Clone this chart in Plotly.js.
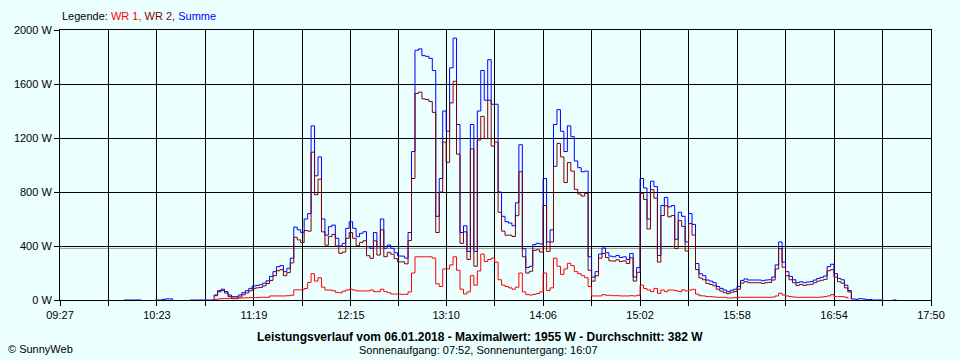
<!DOCTYPE html>
<html><head><meta charset="utf-8">
<script src="https://cdn.plot.ly/plotly-3.0.1.min.js"></script>
<style>html,body{margin:0;padding:0;background:#ebffff;} #chart{width:960px;height:360px;}</style>
</head><body><div id="chart"></div>
<script>
const times = [
"10:02","10:04","10:06","10:08","10:10","10:12","10:14","10:16","10:18","10:20",
"10:22","10:24","10:26","10:28","10:30","10:32","10:34","10:36","10:38","10:40",
"10:42","10:44","10:46","10:48","10:50","10:52","10:54","10:56","10:58","11:00",
"11:02","11:04","11:06","11:08","11:10","11:12","11:14","11:16","11:18","11:20",
"11:22","11:24","11:26","11:28","11:30","11:32","11:34","11:36","11:38","11:40",
"11:42","11:44","11:46","11:48","11:50","11:52","11:54","11:56","11:58","12:00",
"12:02","12:04","12:06","12:08","12:10","12:12","12:14","12:16","12:18","12:20",
"12:22","12:24","12:26","12:28","12:30","12:32","12:34","12:36","12:38","12:40",
"12:42","12:44","12:46","12:48","12:50","12:52","12:54","12:56","12:58","13:00",
"13:02","13:04","13:06","13:08","13:10","13:12","13:14","13:16","13:18","13:20",
"13:22","13:24","13:26","13:28","13:30","13:32","13:34","13:36","13:38","13:40",
"13:42","13:44","13:46","13:48","13:50","13:52","13:54","13:56","13:58","14:00",
"14:02","14:04","14:06","14:08","14:10","14:12","14:14","14:16","14:18","14:20",
"14:22","14:24","14:26","14:28","14:30","14:32","14:34","14:36","14:38","14:40",
"14:42","14:44","14:46","14:48","14:50","14:52","14:54","14:56","14:58","15:00",
"15:02","15:04","15:06","15:08","15:10","15:12","15:14","15:16","15:18","15:20",
"15:22","15:24","15:26","15:28","15:30","15:32","15:34","15:36","15:38","15:40",
"15:42","15:44","15:46","15:48","15:50","15:52","15:54","15:56","15:58","16:00",
"16:02","16:04","16:06","16:08","16:10","16:12","16:14","16:16","16:18","16:20",
"16:22","16:24","16:26","16:28","16:30","16:32","16:34","16:36","16:38","16:40",
"16:42","16:44","16:46","16:48","16:50","16:52","16:54","16:56","16:58","17:00",
"17:02","17:04","17:06","17:08","17:10","17:12","17:14","17:16","17:18","17:20",
"17:22","17:24","17:26","17:28","17:30"];

const summe = [
null,0,0,0,0,0,0,null,null,null,
0,0,5,8,8,0,null,null,null,null,
0,0,0,0,0,0,0,37,69,80,
62,37,25,25,37,54,69,86,104,108,
113,125,142,175,210,247,255,210,235,310,
540,520,500,600,640,1290,920,1060,600,480,
543,555,457,400,420,531,580,531,469,494,
506,395,383,500,395,600,383,407,383,350,
326,325,310,500,1100,1850,1860,1810,1805,1790,
1700,620,900,1400,1250,1720,1940,1300,500,550,
360,1300,360,1400,1700,1480,1780,1450,1450,800,
620,580,570,550,720,1150,380,240,250,410,
420,415,900,430,520,1300,1410,1250,1100,1290,
1210,1030,980,950,955,320,170,210,340,385,
350,325,320,330,315,320,300,345,170,240,
900,830,600,880,840,330,700,760,690,700,
450,650,620,430,640,560,270,195,180,148,
140,128,100,86,74,62,72,80,100,145,
156,148,148,148,148,143,148,150,170,260,
430,280,210,175,150,128,135,128,133,136,
148,160,168,178,247,265,195,160,150,110,
70,8,5,10,8,3,3,0,0,0,
0,null,null,0,0];

const wr1 = [
null,null,null,null,null,null,null,null,null,null,
null,null,null,null,null,null,null,null,null,null,
null,null,null,null,null,null,null,5,8,10,
10,12,15,15,15,15,17,18,18,18,
20,20,20,30,30,30,30,30,32,35,
75,75,75,85,130,195,140,165,95,74,
74,69,57,54,65,74,80,74,67,67,
67,67,74,62,62,80,62,54,44,44,
44,42,42,60,200,320,320,320,320,320,
310,120,100,230,230,260,320,220,80,45,
60,180,110,215,340,285,300,310,280,150,
110,100,90,80,95,200,60,40,37,42,
48,60,200,70,90,310,250,190,230,272,
255,210,195,180,165,100,30,30,30,40,
35,35,32,32,30,30,30,32,30,35,
110,85,74,62,86,49,74,62,74,74,
69,62,75,67,74,79,44,32,30,25,
25,22,20,20,20,15,15,18,20,20,
20,20,20,20,20,20,20,20,22,30,
50,37,30,25,22,20,20,20,20,20,
20,20,22,25,30,40,25,25,25,20,
10,null,null,null,null,null,null,null,null,null,
null,null,null,null,null];

const wr2 = [
null,null,null,null,null,null,null,null,null,null,
null,null,null,null,null,null,null,null,null,null,
null,null,null,null,null,null,null,32,61,70,
52,25,10,10,22,39,52,68,86,90,
93,105,122,145,180,217,225,180,203,275,
465,445,425,515,510,1095,780,895,505,406,
469,486,400,346,355,457,500,457,402,427,
439,328,309,438,333,520,321,353,339,306,
282,283,268,440,900,1530,1540,1490,1485,1470,
1390,500,800,1170,1020,1460,1620,1080,420,505,
300,1120,250,1185,1360,1195,1480,1140,1170,650,
510,480,480,470,625,950,320,200,213,368,
372,355,700,360,430,990,1160,1060,870,1018,
955,820,785,770,790,220,140,180,310,345,
315,290,288,298,285,290,270,313,140,205,
790,745,526,818,754,281,626,698,616,626,
381,588,545,363,566,481,226,163,150,123,
115,106,80,66,54,47,57,62,80,125,
136,128,128,128,128,123,128,130,148,230,
380,243,180,150,128,108,115,108,113,116,
128,140,146,153,217,225,170,135,125,90,
60,6,null,null,null,null,null,null,null,null,
null,null,null,null,null];

const tickLabels = ["09:27","10:23","11:19","12:15","13:10","14:06","15:02","15:58","16:54","17:50"];
const yTicks = [0,400,800,1200,1600,2000];
const averageW = 382;
const maxW = 1955;
const dayText = "06.01.2018";
const sunrise = "07:52", sunset = "16:07";

function toMin(s){ const p = s.split(":"); return (+p[0])*60 + (+p[1]); }
const xs = times.map(toMin);
const labelVals = tickLabels.map(toMin);
const tickvals = [], ticktext = [];
labelVals.forEach((v,i)=>{
  tickvals.push(v); ticktext.push(tickLabels[i]);
  if (i < labelVals.length-1){ tickvals.push((v+labelVals[i+1])/2); ticktext.push(""); }
});

const traces = [
  {x: xs, y: summe, name: "Summe", type: "scatter", mode: "lines", connectgaps: false,
   line: {color: "#0000ff", width: 1, shape: "hv"}},
  {x: xs, y: wr2, name: "WR 2", type: "scatter", mode: "lines", connectgaps: false,
   line: {color: "#800000", width: 1, shape: "hv"}},
  {x: xs, y: wr1, name: "WR 1", type: "scatter", mode: "lines", connectgaps: false,
   line: {color: "#ff0000", width: 1, shape: "hv"}}
];

const bg = "#ebffff";
const layout = {
  width: 960, height: 360,
  margin: {l: 60, r: 29, t: 30, b: 60, pad: 0},
  paper_bgcolor: bg, plot_bgcolor: bg,
  font: {family: "Liberation Sans, Arial, sans-serif", size: 11, color: "#000"},
  showlegend: false,
  xaxis: {range: [labelVals[0], labelVals[labelVals.length-1]], tickmode: "array", tickvals: tickvals, ticktext: ticktext,
    ticks: "outside", ticklen: 5, tickcolor: "#000", tickwidth: 1, showgrid: true, gridcolor: "#000", gridwidth: 1,
    showline: true, linecolor: "#000", linewidth: 1, mirror: true, zeroline: false, fixedrange: true,
    tickfont: {size: 11, color: "#000"}},
  yaxis: {range: [0, 2000], tickmode: "array", tickvals: yTicks, ticktext: yTicks.map(v => v + " W"),
    ticks: "outside", ticklen: 5, tickcolor: "#000", tickwidth: 1, showgrid: true, gridcolor: "#000", gridwidth: 1,
    showline: true, linecolor: "#000", linewidth: 1, mirror: true, zeroline: false, fixedrange: true,
    tickfont: {size: 11, color: "#000"}},
  shapes: [
    {type: "line", xref: "paper", x0: 0, x1: 1, yref: "y", y0: averageW, y1: averageW,
     line: {color: "#999999", width: 1}, layer: "below"}
  ],
  annotations: [
    {xref: "paper", yref: "paper", x: 0, y: 1.052, xanchor: "left", yanchor: "middle", showarrow: false,
     text: 'Legende: <span style="color:#ff0000">WR 1,</span> <span style="color:#800000">WR 2,</span> <span style="color:#0000ff">Summe</span>',
     font: {size: 11, color: "#000"}},
    {xref: "paper", yref: "paper", x: 0.482, y: -0.137, xanchor: "center", yanchor: "middle", showarrow: false,
     text: "<b>Leistungsverlauf vom " + dayText + " - Maximalwert: " + maxW + " W - Durchschnitt: " + averageW + " W</b>",
     font: {size: 12, color: "#000"}},
    {xref: "paper", yref: "paper", x: 0.481, y: -0.187, xanchor: "center", yanchor: "middle", showarrow: false,
     text: "Sonnenaufgang: " + sunrise + ", Sonnenuntergang: " + sunset,
     font: {size: 11, color: "#000"}},
    {xref: "paper", yref: "paper", x: -0.062, y: -0.18, xanchor: "left", yanchor: "middle", showarrow: false,
     text: "© SunnyWeb", font: {size: 11, color: "#000"}}
  ]
};

Plotly.newPlot("chart", traces, layout, {displayModeBar: false, staticPlot: true});
</script>
</body></html>
